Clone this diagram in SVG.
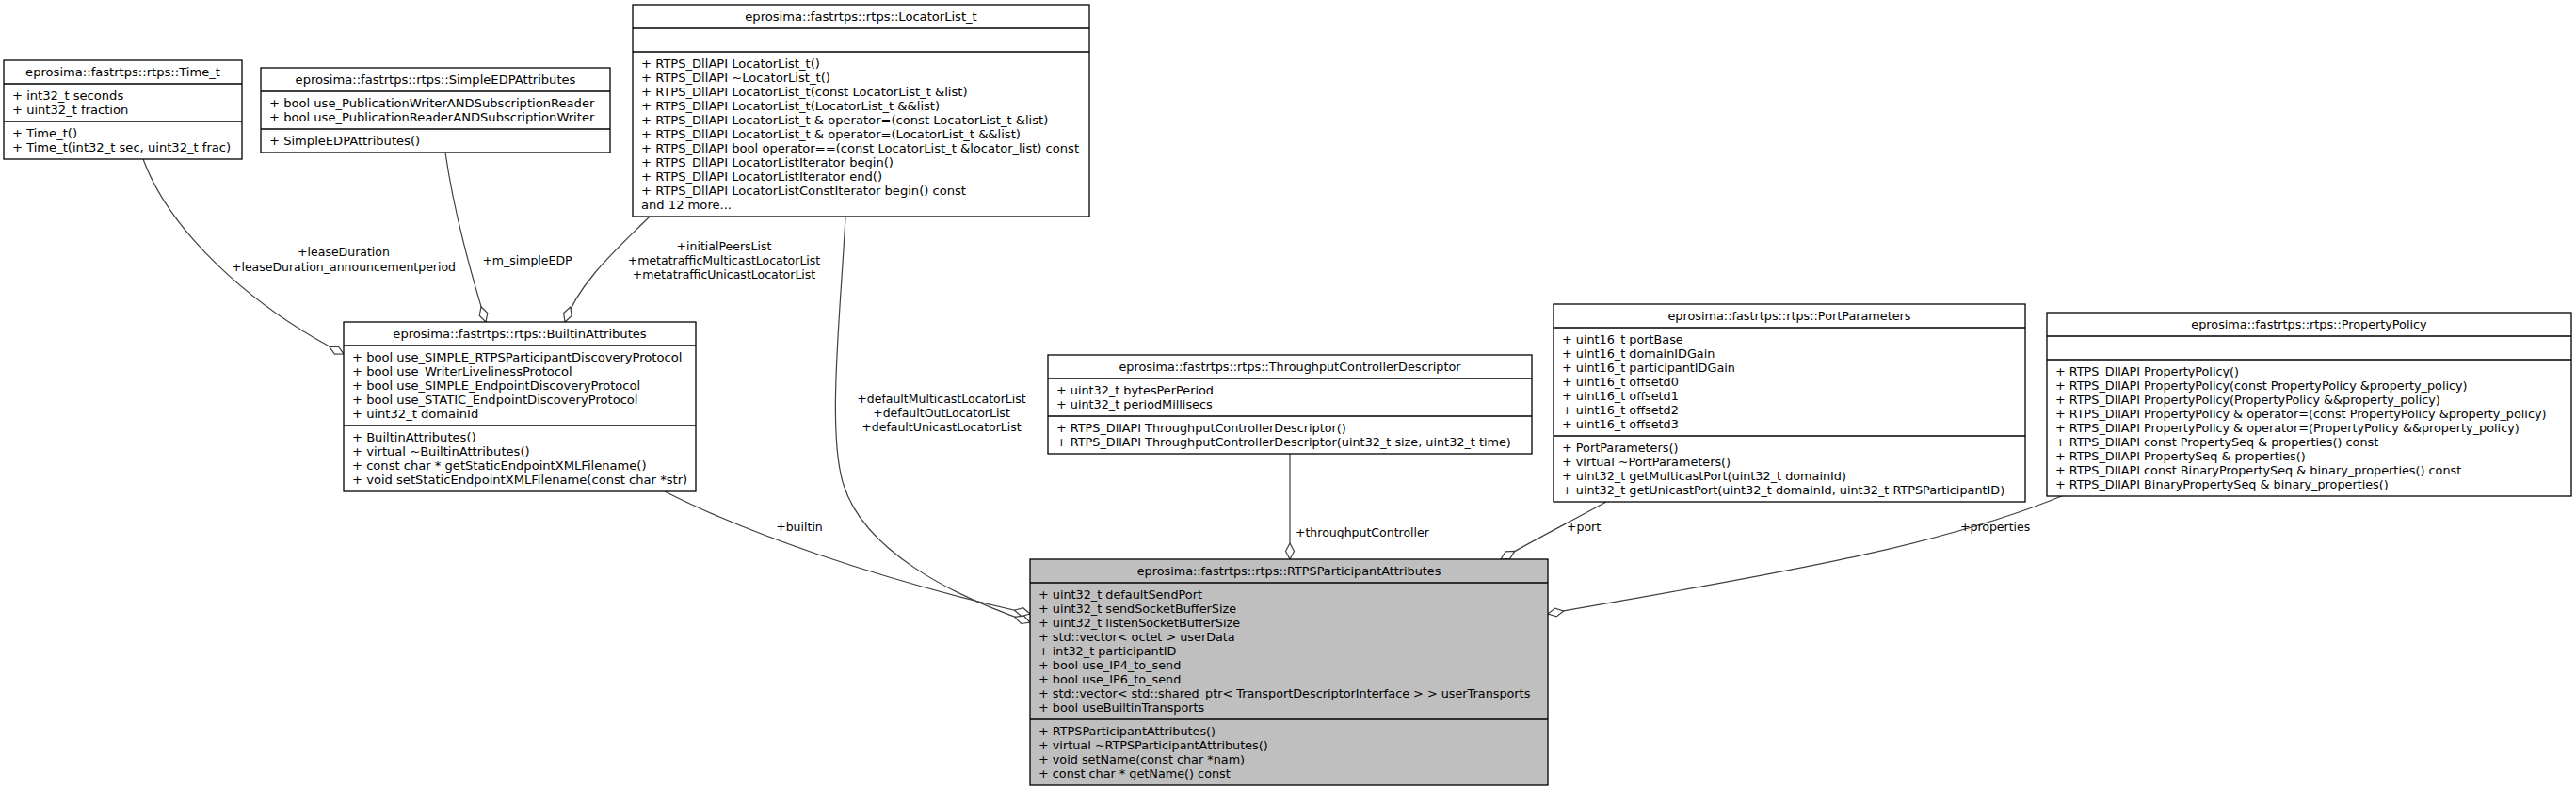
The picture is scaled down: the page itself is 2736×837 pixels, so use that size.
<svg xmlns="http://www.w3.org/2000/svg" width="2736" height="837" viewBox="0 0 2736 837">
<defs>
<style>
text{font-family:"DejaVu Sans","Liberation Sans",sans-serif;font-size:12.5px;fill:#000}
.L text{font-size:13.1px}
.R text{font-size:12.8px}
.c{text-anchor:middle}
.box{fill:#fff;stroke:#000;stroke-width:1.3}
.grey{fill:#bfbfbf}
.sep{stroke:#000;stroke-width:1.3}
.edge{fill:none;stroke:#404040;stroke-width:1.2;marker-end:url(#od)}
</style>
<marker id="od" markerUnits="userSpaceOnUse" markerWidth="20" markerHeight="12" viewBox="0 0 20 12" refX="18" refY="6" orient="auto">
<path d="M1,6 L9.5,1.5 L18,6 L9.5,10.5 Z" fill="#fff" stroke="#404040" stroke-width="1.2"/>
</marker>
</defs>
<rect width="2736" height="837" fill="#fff"/>

<g id="edges">
<path class="edge" d="M152,169 C180,245 265,325 365,376"/>
<path class="edge" d="M473,162 C482,225 500,290 516,342"/>
<path class="edge" d="M690,230 C658,262 616,298 600,342"/>
<path class="edge" d="M898,230 C893,330 878,460 896,515 C918,585 1010,632 1094,661"/>
<path class="edge" d="M706,522 C790,565 930,615 1094,652"/>
<path class="edge" d="M1370,482 L1370,594"/>
<path class="edge" d="M1706,533 C1670,553 1630,573 1594,594"/>
<path class="edge" d="M2192,526 C2050,585 1850,615 1644,652"/>
<text class="c" x="365" y="272">+leaseDuration</text>
<text class="c" x="365" y="288">+leaseDuration_announcementperiod</text>
<text class="c" x="560" y="281">+m_simpleEDP</text>
<text class="c" x="769" y="266">+initialPeersList</text>
<text class="c" x="769" y="281">+metatrafficMulticastLocatorList</text>
<text class="c" x="769" y="296">+metatrafficUnicastLocatorList</text>
<text class="c" x="1000" y="428">+defaultMulticastLocatorList</text>
<text class="c" x="1000" y="443">+defaultOutLocatorList</text>
<text class="c" x="1000" y="458">+defaultUnicastLocatorList</text>
<text class="c" x="849" y="564">+builtin</text>
<text x="1376" y="570">+throughputController</text>
<text x="1664" y="564">+port</text>
<text x="2082" y="564">+properties</text>
</g>

<g id="node_Time_t" class="L">
<rect class="box" x="4" y="64" width="253" height="105"/>
<line class="sep" x1="4" y1="89" x2="257" y2="89"/>
<line class="sep" x1="4" y1="129" x2="257" y2="129"/>
<text class="c" x="130.5" y="80.5">eprosima::fastrtps::rtps::Time_t</text>
<text x="13" y="105.5">+ int32_t seconds</text>
<text x="13" y="120.5">+ uint32_t fraction</text>
<text x="13" y="145.5">+ Time_t()</text>
<text x="13" y="160.5">+ Time_t(int32_t sec, uint32_t frac)</text>
</g>

<g id="node_SimpleEDPAttributes" class="L">
<rect class="box" x="277" y="72" width="371" height="90"/>
<line class="sep" x1="277" y1="97" x2="648" y2="97"/>
<line class="sep" x1="277" y1="137" x2="648" y2="137"/>
<text class="c" x="462.5" y="88.5">eprosima::fastrtps::rtps::SimpleEDPAttributes</text>
<text x="286" y="113.5">+ bool use_PublicationWriterANDSubscriptionReader</text>
<text x="286" y="128.5">+ bool use_PublicationReaderANDSubscriptionWriter</text>
<text x="286" y="153.5">+ SimpleEDPAttributes()</text>
</g>

<g id="node_LocatorList_t" class="L">
<rect class="box" x="672" y="5" width="485" height="225"/>
<line class="sep" x1="672" y1="30" x2="1157" y2="30"/>
<line class="sep" x1="672" y1="55" x2="1157" y2="55"/>
<text class="c" x="914.5" y="21.5">eprosima::fastrtps::rtps::LocatorList_t</text>
<text x="681" y="71.5">+ RTPS_DllAPI LocatorList_t()</text>
<text x="681" y="86.5">+ RTPS_DllAPI ~LocatorList_t()</text>
<text x="681" y="101.5">+ RTPS_DllAPI LocatorList_t(const LocatorList_t &amp;list)</text>
<text x="681" y="116.5">+ RTPS_DllAPI LocatorList_t(LocatorList_t &amp;&amp;list)</text>
<text x="681" y="131.5">+ RTPS_DllAPI LocatorList_t &amp; operator=(const LocatorList_t &amp;list)</text>
<text x="681" y="146.5">+ RTPS_DllAPI LocatorList_t &amp; operator=(LocatorList_t &amp;&amp;list)</text>
<text x="681" y="161.5">+ RTPS_DllAPI bool operator==(const LocatorList_t &amp;locator_list) const</text>
<text x="681" y="176.5">+ RTPS_DllAPI LocatorListIterator begin()</text>
<text x="681" y="191.5">+ RTPS_DllAPI LocatorListIterator end()</text>
<text x="681" y="206.5">+ RTPS_DllAPI LocatorListConstIterator begin() const</text>
<text x="681" y="221.5">and 12 more...</text>
</g>

<g id="node_BuiltinAttributes" class="L">
<rect class="box" x="365" y="342" width="374" height="180"/>
<line class="sep" x1="365" y1="367" x2="739" y2="367"/>
<line class="sep" x1="365" y1="452" x2="739" y2="452"/>
<text class="c" x="552" y="358.5">eprosima::fastrtps::rtps::BuiltinAttributes</text>
<text x="374" y="383.5">+ bool use_SIMPLE_RTPSParticipantDiscoveryProtocol</text>
<text x="374" y="398.5">+ bool use_WriterLivelinessProtocol</text>
<text x="374" y="413.5">+ bool use_SIMPLE_EndpointDiscoveryProtocol</text>
<text x="374" y="428.5">+ bool use_STATIC_EndpointDiscoveryProtocol</text>
<text x="374" y="443.5">+ uint32_t domainId</text>
<text x="374" y="468.5">+ BuiltinAttributes()</text>
<text x="374" y="483.5">+ virtual ~BuiltinAttributes()</text>
<text x="374" y="498.5">+ const char * getStaticEndpointXMLFilename()</text>
<text x="374" y="513.5">+ void setStaticEndpointXMLFilename(const char *str)</text>
</g>

<g id="node_ThroughputControllerDescriptor" class="R">
<rect class="box" x="1113" y="377" width="514" height="105"/>
<line class="sep" x1="1113" y1="402" x2="1627" y2="402"/>
<line class="sep" x1="1113" y1="442" x2="1627" y2="442"/>
<text class="c" x="1370" y="393.5">eprosima::fastrtps::rtps::ThroughputControllerDescriptor</text>
<text x="1122" y="418.5">+ uint32_t bytesPerPeriod</text>
<text x="1122" y="433.5">+ uint32_t periodMillisecs</text>
<text x="1122" y="458.5">+ RTPS_DllAPI ThroughputControllerDescriptor()</text>
<text x="1122" y="473.5">+ RTPS_DllAPI ThroughputControllerDescriptor(uint32_t size, uint32_t time)</text>
</g>

<g id="node_PortParameters" class="R">
<rect class="box" x="1650" y="323" width="501" height="210"/>
<line class="sep" x1="1650" y1="348" x2="2151" y2="348"/>
<line class="sep" x1="1650" y1="463" x2="2151" y2="463"/>
<text class="c" x="1900.5" y="339.5">eprosima::fastrtps::rtps::PortParameters</text>
<text x="1659" y="364.5">+ uint16_t portBase</text>
<text x="1659" y="379.5">+ uint16_t domainIDGain</text>
<text x="1659" y="394.5">+ uint16_t participantIDGain</text>
<text x="1659" y="409.5">+ uint16_t offsetd0</text>
<text x="1659" y="424.5">+ uint16_t offsetd1</text>
<text x="1659" y="439.5">+ uint16_t offsetd2</text>
<text x="1659" y="454.5">+ uint16_t offsetd3</text>
<text x="1659" y="479.5">+ PortParameters()</text>
<text x="1659" y="494.5">+ virtual ~PortParameters()</text>
<text x="1659" y="509.5">+ uint32_t getMulticastPort(uint32_t domainId)</text>
<text x="1659" y="524.5">+ uint32_t getUnicastPort(uint32_t domainId, uint32_t RTPSParticipantID)</text>
</g>

<g id="node_PropertyPolicy" class="R">
<rect class="box" x="2174" y="332" width="557" height="195"/>
<line class="sep" x1="2174" y1="357" x2="2731" y2="357"/>
<line class="sep" x1="2174" y1="382" x2="2731" y2="382"/>
<text class="c" x="2452.5" y="348.5">eprosima::fastrtps::rtps::PropertyPolicy</text>
<text x="2183" y="398.5">+ RTPS_DllAPI PropertyPolicy()</text>
<text x="2183" y="413.5">+ RTPS_DllAPI PropertyPolicy(const PropertyPolicy &amp;property_policy)</text>
<text x="2183" y="428.5">+ RTPS_DllAPI PropertyPolicy(PropertyPolicy &amp;&amp;property_policy)</text>
<text x="2183" y="443.5">+ RTPS_DllAPI PropertyPolicy &amp; operator=(const PropertyPolicy &amp;property_policy)</text>
<text x="2183" y="458.5">+ RTPS_DllAPI PropertyPolicy &amp; operator=(PropertyPolicy &amp;&amp;property_policy)</text>
<text x="2183" y="473.5">+ RTPS_DllAPI const PropertySeq &amp; properties() const</text>
<text x="2183" y="488.5">+ RTPS_DllAPI PropertySeq &amp; properties()</text>
<text x="2183" y="503.5">+ RTPS_DllAPI const BinaryPropertySeq &amp; binary_properties() const</text>
<text x="2183" y="518.5">+ RTPS_DllAPI BinaryPropertySeq &amp; binary_properties()</text>
</g>

<g id="node_RTPSParticipantAttributes" class="R">
<rect class="box grey" x="1094" y="594" width="550" height="240"/>
<line class="sep" x1="1094" y1="619" x2="1644" y2="619"/>
<line class="sep" x1="1094" y1="764" x2="1644" y2="764"/>
<text class="c" x="1369" y="610.5">eprosima::fastrtps::rtps::RTPSParticipantAttributes</text>
<text x="1103" y="635.5">+ uint32_t defaultSendPort</text>
<text x="1103" y="650.5">+ uint32_t sendSocketBufferSize</text>
<text x="1103" y="665.5">+ uint32_t listenSocketBufferSize</text>
<text x="1103" y="680.5">+ std::vector&lt; octet &gt; userData</text>
<text x="1103" y="695.5">+ int32_t participantID</text>
<text x="1103" y="710.5">+ bool use_IP4_to_send</text>
<text x="1103" y="725.5">+ bool use_IP6_to_send</text>
<text x="1103" y="740.5">+ std::vector&lt; std::shared_ptr&lt; TransportDescriptorInterface &gt; &gt; userTransports</text>
<text x="1103" y="755.5">+ bool useBuiltinTransports</text>
<text x="1103" y="780.5">+ RTPSParticipantAttributes()</text>
<text x="1103" y="795.5">+ virtual ~RTPSParticipantAttributes()</text>
<text x="1103" y="810.5">+ void setName(const char *nam)</text>
<text x="1103" y="825.5">+ const char * getName() const</text>
</g>
</svg>
